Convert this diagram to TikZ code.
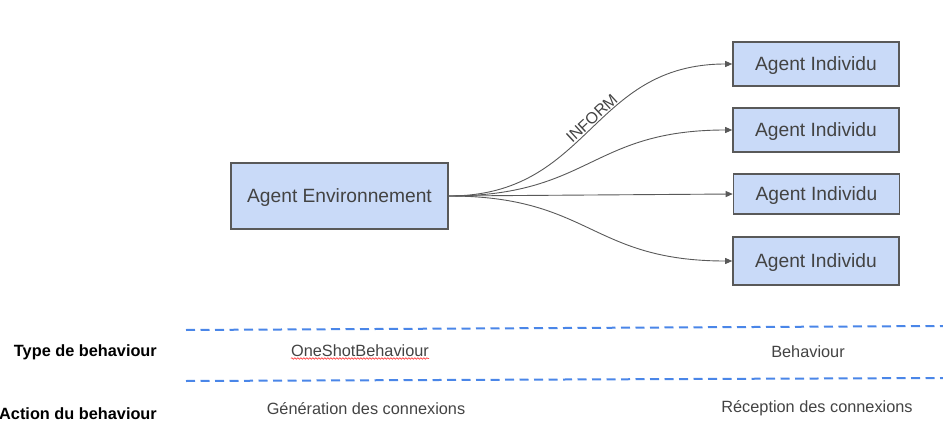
\documentclass[tikz,border=0pt]{standalone}
\usepackage{fontspec}
\setmainfont{Liberation Sans}
\usetikzlibrary{positioning}
\usetikzlibrary{arrows.meta}
\usetikzlibrary{decorations.pathmorphing}

\definecolor{boxfill}{HTML}{C9DAF8}
\definecolor{boxline}{HTML}{595959}
\definecolor{txtgray}{HTML}{434343}
\definecolor{sepblue}{HTML}{4A86E8}

\begin{document}
\begin{tikzpicture} [
            x=1pt, y=-1pt,
            agent/.style={draw=boxline, line width=1.6pt, fill=boxfill, text=txtgray,
                          font=\fontsize{19.2}{23}\selectfont, inner sep=0pt,
                          text height=13.7pt, text depth=0pt},
            msg/.style={->, boxline, line width=0.9pt},
            sep/.style={sepblue, line width=2pt, dash pattern=on 9pt off 5.5pt},
            lbl/.style={inner sep=0pt, text=txtgray, font=\fontsize{16.3}{19}\selectfont},
            rowlbl/.style={inner sep=0pt, anchor=base east, font=\fontsize{16.3}{19}\selectfont\bfseries},
            >={Triangle[length=7pt,width=6pt]}]

\useasboundingbox (0,0) rectangle (943,436);

%Environnement
\node (env) at (339.5,196) [agent, minimum width=217pt, minimum height=66pt] {Agent Environnement};

%Individus
\node (ind1) at (816,64)  [agent, minimum width=166pt, minimum height=44pt] {Agent Individu};
\node (ind2) at (816,130) [agent, minimum width=166pt, minimum height=44pt] {Agent Individu};
\node (ind3) at (816.5,194) [agent, minimum width=166pt, minimum height=40pt] {Agent Individu};
\node (ind4) at (816,261) [agent, minimum width=166pt, minimum height=48pt] {Agent Individu};

% messages
\draw [msg] (env.east) .. controls +(142,0) and +(-142,0) .. node [pos=0.53, sloped, above=1.5pt, lbl, font=\fontsize{16}{19}\selectfont] {INFORM} (ind1.west);
\draw [msg] (env.east) .. controls +(142,0) and +(-142,0) .. (ind2.west);
\draw [msg] (env.east) -- (ind3.west);
\draw [msg] (env.east) .. controls +(142,0) and +(-142,0) .. (ind4.west);

% separators
\coordinate (s1a) at (186,330);
\coordinate (s1b) at (943,326);
\coordinate (s2a) at (186,381);
\coordinate (s2b) at (943,378);
\draw [sep] (s1a) -- (s1b);
\draw [sep] (s2a) -- (s2b);

%rows
\node (type) at (157,356) [rowlbl] {Type de behaviour};
\node (action) at (157,419) [rowlbl] {Action du behaviour};

\node (osb) at (360,356) [lbl, anchor=base] {OneShotBehaviour};
\node (beh) at (808,357) [lbl, anchor=base] {Behaviour};
\node (gen) at (366,414) [lbl, anchor=base] {Génération des connexions};
\node (rec) at (817,412) [lbl, anchor=base] {Réception des connexions};

% spell check mark
\draw [red!75, line width=0.6pt, decorate, decoration={snake, amplitude=0.8pt, segment length=3pt}]
   ([yshift=-2.5pt]osb.base west) -- ([yshift=-2.5pt]osb.base east);

\end{tikzpicture}
\end{document}
